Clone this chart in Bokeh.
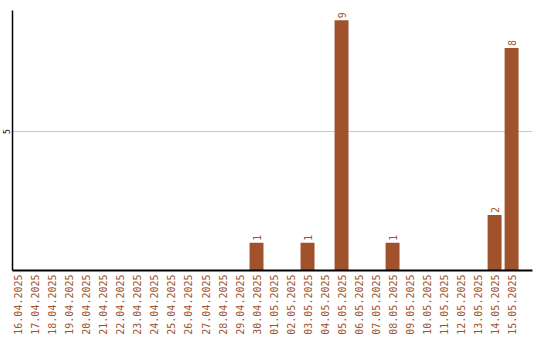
import math
from bokeh.plotting import figure
from bokeh.models import ColumnDataSource, FixedTicker, Range1d
from bokeh.core.properties import value
from bokeh.embed import file_html
from bokeh.resources import INLINE

dates = [
    "16.04.2025", "17.04.2025", "18.04.2025", "19.04.2025", "20.04.2025",
    "21.04.2025", "22.04.2025", "23.04.2025", "24.04.2025", "25.04.2025",
    "26.04.2025", "27.04.2025", "28.04.2025", "29.04.2025", "30.04.2025",
    "01.05.2025", "02.05.2025", "03.05.2025", "04.05.2025", "05.05.2025",
    "06.05.2025", "07.05.2025", "08.05.2025", "09.05.2025", "10.05.2025",
    "11.05.2025", "12.05.2025", "13.05.2025", "14.05.2025", "15.05.2025",
]
counts = [0, 0, 0, 0, 0, 0, 0, 0, 0, 0,
          0, 0, 0, 0, 1, 0, 0, 1, 0, 9,
          0, 0, 1, 0, 0, 0, 0, 0, 2, 8]
y_ticks = [5]

BAR = "#A0522D"
MONO = "DejaVu Sans Mono"

idx = list(range(len(dates)))
src = ColumnDataSource(dict(x=idx, top=counts))
nz = [i for i, c in enumerate(counts) if c > 0]
lbl = ColumnDataSource(dict(x=nz, y=[counts[i] for i in nz],
                            label=[str(counts[i]) for i in nz]))

p = figure(frame_width=520, frame_height=260, output_backend="svg",
           toolbar_location=None,
           x_range=Range1d(-0.35, 30.23), y_range=Range1d(0, 9.35),
           min_border_left=11, min_border_right=8, min_border_top=10,
           min_border_bottom=70)
p.outline_line_color = None
p.background_fill_color = "white"
p.border_fill_color = "white"

p.vbar(x="x", top="top", width=0.82, bottom=0, source=src,
       fill_color=BAR, line_color=None)
p.text(x="x", y="y", text="label", source=lbl, angle=math.pi / 2,
       text_align="left", text_baseline="middle", y_offset=-2,
       text_color=BAR, text_font=value(MONO), text_font_size="10px")

p.xgrid.visible = False
p.ygrid.ticker = FixedTicker(ticks=y_ticks)
p.ygrid.grid_line_color = "#c8c8c8"

xa = p.xaxis[0]
xa.ticker = FixedTicker(ticks=idx)
xa.major_label_overrides = {i: d for i, d in enumerate(dates)}
xa.major_label_orientation = math.pi / 2
xa.major_label_text_color = BAR
xa.major_label_text_font = MONO
xa.major_label_text_font_size = "10px"
xa.major_tick_out = 0
xa.major_tick_in = 0
xa.minor_tick_out = 0
xa.minor_tick_in = 0
xa.major_label_standoff = 4
xa.axis_line_color = "black"
xa.axis_line_width = 2

ya = p.yaxis[0]
ya.ticker = FixedTicker(ticks=y_ticks)
ya.major_label_orientation = "vertical"
ya.major_label_text_font = MONO
ya.major_label_text_font_size = "8px"
ya.major_label_text_color = "black"
ya.major_tick_out = 0
ya.major_tick_in = 0
ya.minor_tick_out = 0
ya.minor_tick_in = 0
ya.major_label_standoff = 2
ya.axis_line_color = "black"
ya.axis_line_width = 1.5

open("out.html", "w").write(file_html(p, INLINE))
